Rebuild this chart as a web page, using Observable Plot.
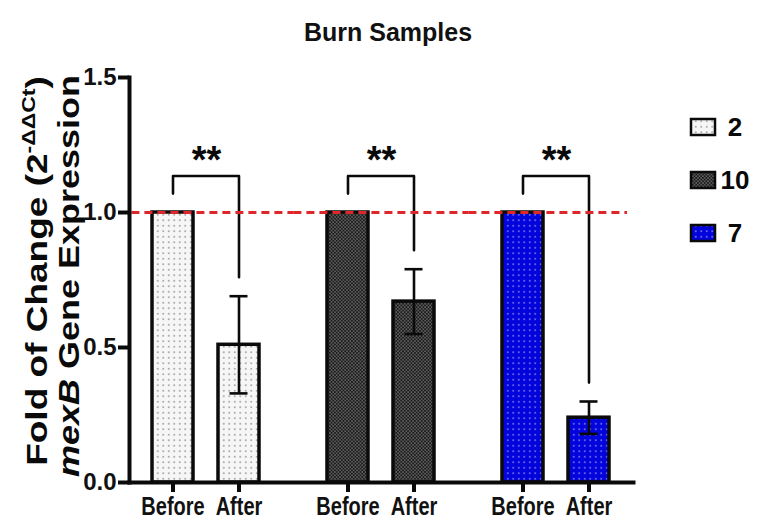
<!DOCTYPE html>
<html><head><meta charset="utf-8">
<script src="https://cdn.jsdelivr.net/npm/d3@7"></script>
<script src="https://cdn.jsdelivr.net/npm/@observablehq/plot@0.6"></script>
<style>
body{margin:0;background:#fff;font-family:"Liberation Sans",Arial,sans-serif;}
#wrap{position:relative;width:766px;height:522px;overflow:hidden;background:#fff}
#title{height:38px;padding-top:20px;padding-left:10px;text-align:center;font-size:25px;line-height:25px;font-weight:bold;color:#111}
#chart svg{display:block}
</style></head><body>
<svg width="0" height="0" style="position:absolute">
  <defs>
    <pattern id="p2" patternUnits="userSpaceOnUse" width="5.5" height="5.5">
      <rect width="5.5" height="5.5" fill="#f6f6f6"/>
      <circle cx="2.75" cy="2.75" r="0.75" fill="#555"/>
    </pattern>
    <pattern id="p10" patternUnits="userSpaceOnUse" width="3.4" height="3.4">
      <rect width="3.4" height="3.4" fill="#1a1a1a"/>
      <rect x="0.2" y="0.2" width="1.4" height="1.4" fill="#7a7a7a"/>
      <rect x="1.9" y="1.9" width="1.4" height="1.4" fill="#7a7a7a"/>
    </pattern>
    <pattern id="p7" patternUnits="userSpaceOnUse" width="5.5" height="5.5">
      <rect width="5.5" height="5.5" fill="#0303dc"/>
      <circle cx="2.75" cy="2.75" r="0.75" fill="#d8d8ff"/>
    </pattern>
  </defs>
</svg>
<div id="wrap"><div id="title">Burn Samples</div><div id="chart"></div></div>
<script>
// ---- data ----
const samples = ["2", "10", "7"];
const conditions = ["Before", "After"];
const beforeValues = [1, 1, 1];
const afterValues = [0.51, 0.67, 0.24];
const afterErrors = [0.18, 0.12, 0.06];
const bracketRightEnd = [0.76, 0.86, 0.37];
const bracketLeftEnd = [1.07, 1.07, 1.07];
const bracketTop = [1.135, 1.135, 1.135];
const significance = ["**", "**", "**"];
const starLevel = [1.19, 1.19, 1.19];
const yTicks = [0, 0.5, 1, 1.5];
const referenceLevel = 1;
const sampleFills = ["url(#p2)", "url(#p10)", "url(#p7)"];

// ---- tables ----
const bars = samples.flatMap((s, i) => [
  {sample: s, condition: "Before", value: beforeValues[i]},
  {sample: s, condition: "After", value: afterValues[i]}
]);
const errs = samples.map((s, i) => ({sample: s, condition: "After", lo: afterValues[i] - afterErrors[i], hi: afterValues[i] + afterErrors[i]}));
const caps = errs.flatMap(d => [{sample: d.sample, condition: d.condition, v: d.lo}, {sample: d.sample, condition: d.condition, v: d.hi}]);
const brackets = samples.flatMap((s, i) => [
  {sample: s, condition: "Before", y: bracketLeftEnd[i]},
  {sample: s, condition: "Before", y: bracketTop[i]},
  {sample: s, condition: "After", y: bracketTop[i]},
  {sample: s, condition: "After", y: bracketRightEnd[i]}
]);
const stars = samples.map((s, i) => ({sample: s, label: significance[i], y: starLevel[i]}));
const refRows = samples.map(s => ({sample: s, y: referenceLevel}));

const FONT = "'Liberation Sans', Arial, sans-serif";

const chart = Plot.plot({
  width: 766,
  height: 464,
  marginTop: 19,
  marginBottom: 40,
  marginLeft: 128,
  marginRight: 133,
  style: {fontFamily: FONT, background: "white", color: "#111"},
  fx: {domain: samples, paddingInner: 0.12, paddingOuter: 0, axis: null, label: null},
  x: {domain: conditions, paddingInner: 0.376, paddingOuter: 0.349, label: null},
  y: {domain: [0, 1.5], label: null},
  color: {domain: samples, range: sampleFills},
  marks: [
    Plot.barY(bars, {fx: "sample", x: "condition", y: "value", fill: "sample", stroke: "#0a0a0a", strokeWidth: 3.5}),
    Plot.ruleX(errs, {fx: "sample", x: "condition", y1: "lo", y2: "hi", stroke: "#0a0a0a", strokeWidth: 2.6}),
    Plot.tickY(caps, {fx: "sample", x: "condition", y: "v", stroke: "#0a0a0a", strokeWidth: 2.6, insetLeft: 11.5, insetRight: 11.5}),
    Plot.line(brackets, {fx: "sample", x: "condition", y: "y", z: "sample", stroke: "#0a0a0a", strokeWidth: 2.6}),
    Plot.text(stars, {fx: "sample", y: "y", text: "label", fontSize: 38, fontWeight: "bold", fill: "#0a0a0a"}),
    Plot.ruleY(refRows.slice(0, 2), {fx: "sample", y: "y", stroke: "#e0262a", strokeWidth: 2.8, strokeDasharray: "8,5", insetLeft: -10.6, insetRight: -10.6}),
    Plot.ruleY(refRows.slice(2), {fx: "sample", y: "y", stroke: "#e0262a", strokeWidth: 2.8, strokeDasharray: "8,5", insetLeft: -10.6, insetRight: 6}),
    Plot.frame({anchor: "bottom", facet: "super", stroke: "#0a0a0a", strokeWidth: 4}),
    Plot.frame({anchor: "left", facet: "super", stroke: "#0a0a0a", strokeWidth: 4}),
    Plot.axisY({ticks: yTicks, tickFormat: d3.format(".1f"), tickSize: 11, tickPadding: 2, stroke: "#0a0a0a", strokeWidth: 4, fontSize: 24, fontWeight: "bold", label: null}),
    Plot.axisX({tickSize: 10, tickPadding: 5, stroke: "#0a0a0a", strokeWidth: 4, fontSize: 25, fontWeight: "bold", label: null})
  ]
});
document.getElementById("chart").appendChild(chart);

const svg = d3.select(chart);
// condensed look of the category labels, as in the reference
svg.selectAll('g[aria-label="x-axis tick label"] text').each(function() {
  const t = d3.select(this);
  t.attr("transform", (t.attr("transform") || "") + " scale(0.8,1)");
});

// ---- y-axis label (two lines) and legend ----
const offsetTop = 58;
const l1 = svg.append("text").attr("transform", `translate(47,${271 - offsetTop}) scale(0.8,1) rotate(-90)`)
  .attr("text-anchor", "middle").attr("font-size", 37).attr("font-weight", "bold").attr("fill", "#0a0a0a").attr("font-family", FONT);
l1.append("tspan").text("Fold of Change (2");
l1.append("tspan").attr("font-size", 23).attr("dy", -15).text("-ΔΔCt");
l1.append("tspan").attr("dy", 15).text(")");
const l2 = svg.append("text").attr("transform", `translate(79,${276 - offsetTop}) scale(0.8,1) rotate(-90)`)
  .attr("text-anchor", "middle").attr("font-size", 36).attr("font-weight", "bold").attr("fill", "#0a0a0a").attr("font-family", FONT);
l2.append("tspan").attr("font-style", "italic").text("mexB");
l2.append("tspan").text(" Gene Expression");

const legendY = [127, 180, 233].map(v => v - offsetTop);
samples.forEach((s, i) => {
  svg.append("rect").attr("x", 691).attr("y", legendY[i] - 8).attr("width", 24).attr("height", 16)
    .attr("fill", sampleFills[i]).attr("stroke", "#0a0a0a").attr("stroke-width", 2.5);
  svg.append("text").attr("x", 735).attr("y", legendY[i]).attr("dy", "0.36em")
    .attr("font-size", 26).attr("font-weight", "bold").attr("fill", "#0a0a0a").attr("font-family", FONT).text(s);
});
</script>
</body></html>
